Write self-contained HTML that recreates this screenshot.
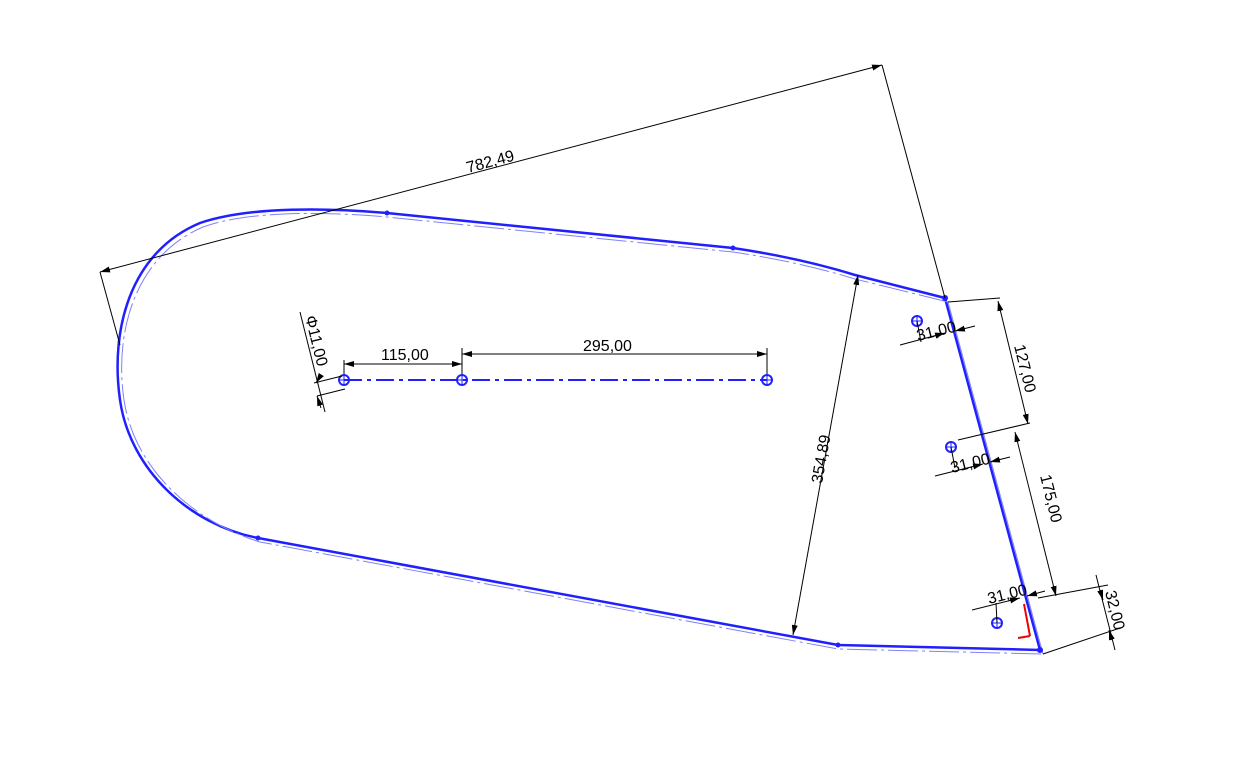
<!DOCTYPE html>
<html><head><style>body{margin:0;background:#fff}svg{display:block}text{font-family:"Liberation Sans",sans-serif;font-size:16px;fill:#000}</style></head><body>
<svg width="1234" height="770" viewBox="0 0 1234 770" xmlns="http://www.w3.org/2000/svg">
<defs><marker id="a" viewBox="0 0 10 6" refX="10" refY="3" markerWidth="10" markerHeight="6" orient="auto-start-reverse"><path d="M0,0L10,3L0,6z" fill="#000"/></marker></defs>
<path d="M945,298 L855,275 Q800,258 733,248 L387,213 C330,208 250,206 200,223 C130,252 110,330 120,400 C130,470 190,525 258,538 L838,645 L1040,650 Z" fill="none" stroke="#2020ff" stroke-width="2.5"/>
<path d="M948,302 L855,279 Q800,262 733,252 L387,217 C330,212 250,210 203,227 C135,256 114,332 124,400 C134,468 192,521 260,542 L838,649 L1043,654" fill="none" stroke="#8080ff" stroke-width="1" stroke-dasharray="30,4,3,4"/>
<path d="M948,302 L1043,654" fill="none" stroke="#8080ff" stroke-width="1"/>
<g fill="#2020ff"><circle cx="945" cy="298" r="3"/><circle cx="1040" cy="650" r="3"/><circle cx="838" cy="645" r="2.5"/><circle cx="258" cy="538" r="2.5"/><circle cx="387" cy="213" r="2.5"/><circle cx="733" cy="248" r="2.5"/></g>
<line x1="344" y1="380" x2="767" y2="380" stroke="#2020ff" stroke-width="2" stroke-dasharray="18,5,4,5"/>
<g fill="none" stroke="#2020ff" stroke-width="2">
<circle cx="344" cy="380" r="5"/><circle cx="462" cy="380" r="5"/><circle cx="767" cy="380" r="5"/>
<circle cx="917" cy="321" r="5"/><circle cx="951" cy="447" r="5"/><circle cx="997" cy="623" r="5"/></g>
<g stroke="#2020ff" stroke-width="1"><path d="M339,380h10M344,375v10M457,380h10M462,375v10M762,380h10M767,375v10M912,321h10M917,316v10M946,447h10M951,442v10M992,623h10M997,618v10"/></g>
<path d="M1030,636 L1024,604 M1030,636 L1018,638" stroke="#e00" stroke-width="2" fill="none"/>
<g stroke="#000" stroke-width="1" fill="none">
<line x1="100" y1="272" x2="882" y2="65" marker-start="url(#a)" marker-end="url(#a)"/>
<line x1="882" y1="65" x2="945" y2="298"/><line x1="100" y1="272" x2="120" y2="345"/>
<line x1="858" y1="275" x2="793" y2="635" marker-start="url(#a)" marker-end="url(#a)"/>
<line x1="344" y1="364" x2="462" y2="364" marker-start="url(#a)" marker-end="url(#a)"/>
<line x1="462" y1="354" x2="767" y2="354" marker-start="url(#a)" marker-end="url(#a)"/>
<path d="M344,374V360M462,374V348M767,374V348"/>
<line x1="300" y1="312" x2="325" y2="412"/>
<path d="M314,383L342,376M317,396L345,389" />
<line x1="321" y1="375" x2="316" y2="383" marker-end="url(#a)"/><line x1="321" y1="408" x2="317" y2="396" marker-end="url(#a)"/>
<path d="M948,302L1000,298M958,440L1030,423M1038,598L1108,585M1043,654L1120,628"/>
<line x1="998" y1="301" x2="1028" y2="424" marker-start="url(#a)" marker-end="url(#a)"/>
<line x1="1015" y1="432" x2="1056" y2="596" marker-start="url(#a)" marker-end="url(#a)"/>
<line x1="1096" y1="575" x2="1115" y2="650"/>
<line x1="1100" y1="590" x2="1103" y2="600" marker-end="url(#a)"/>
<line x1="1112" y1="640" x2="1109" y2="630" marker-end="url(#a)"/>
<line x1="900" y1="345" x2="945" y2="333" marker-end="url(#a)"/><line x1="975" y1="326" x2="955" y2="331" marker-end="url(#a)"/>
<line x1="935" y1="476" x2="983" y2="464" marker-end="url(#a)"/><line x1="1010" y1="457" x2="990" y2="462" marker-end="url(#a)"/>
<line x1="972" y1="610" x2="1020" y2="598" marker-end="url(#a)"/><line x1="1045" y1="591" x2="1027" y2="596" marker-end="url(#a)"/>
<path d="M917,321L921,342M951,447L955,468M997,623L996,603"/>
</g>
<text transform="translate(468,173) rotate(-15)">782,49</text>
<text transform="translate(822,484) rotate(-80)">354,89</text>
<text x="381" y="360">115,00</text>
<text x="583" y="351">295,00</text>
<text transform="translate(305,317) rotate(76)">Φ11,00</text>
<text transform="translate(1014,346) rotate(76)">127,00</text>
<text transform="translate(1040,476) rotate(76)">175,00</text>
<text transform="translate(1105,592) rotate(76)">32,00</text>
<text transform="translate(918,341) rotate(-14)">31,00</text>
<text transform="translate(952,473) rotate(-14)">31,00</text>
<text transform="translate(989,604) rotate(-14)">31,00</text>
</svg>
</body></html>
